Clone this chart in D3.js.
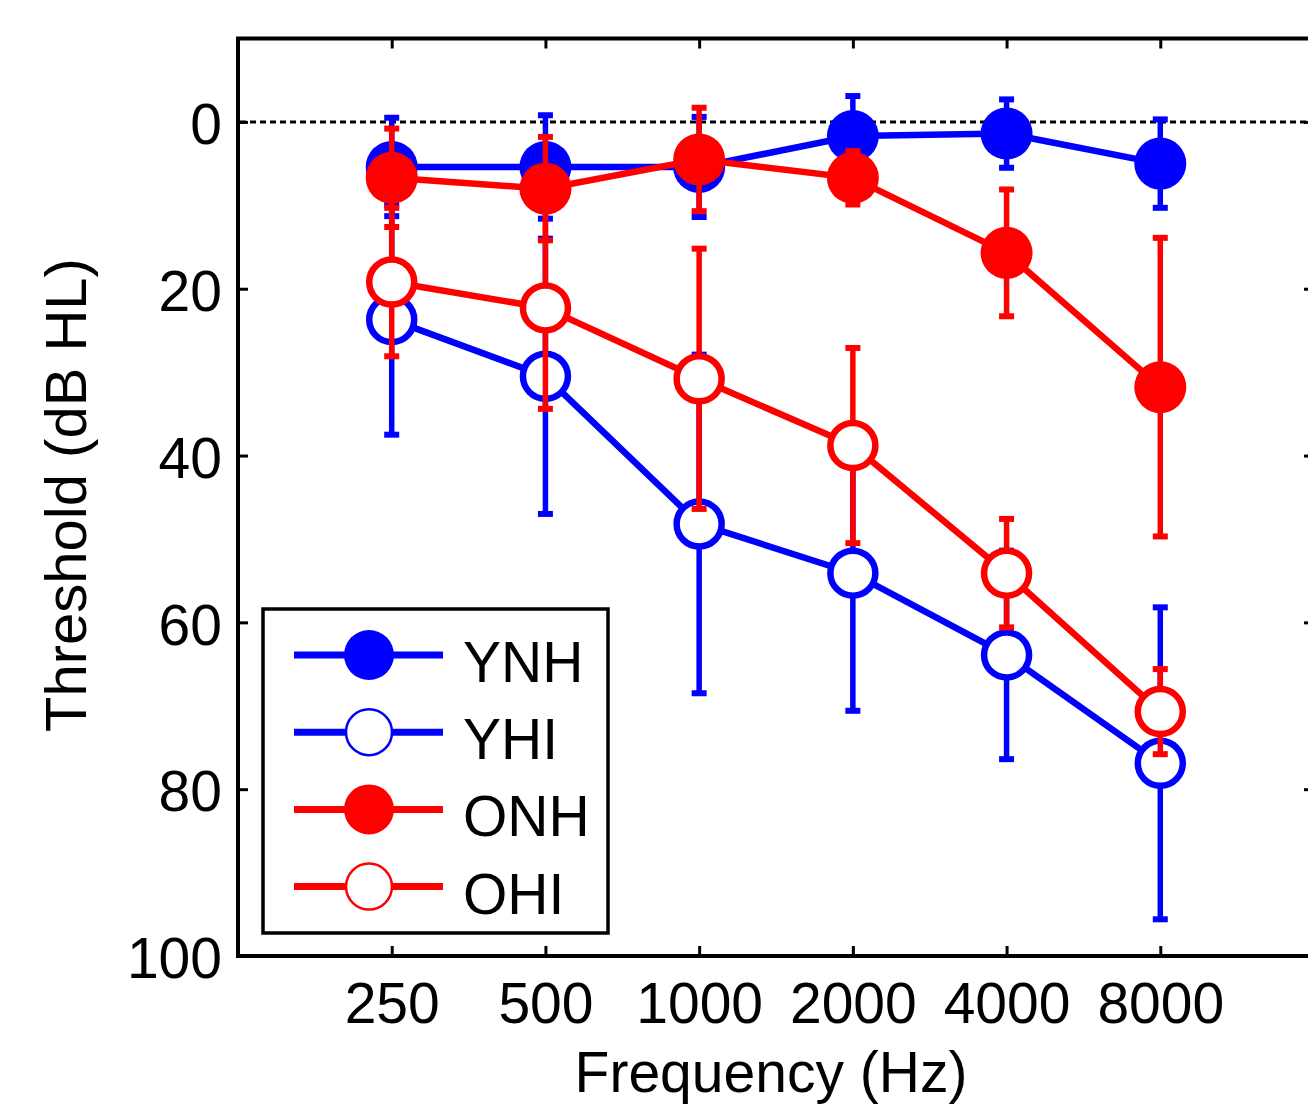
<!DOCTYPE html>
<html>
<head>
<meta charset="utf-8">
<script src="https://cdn.jsdelivr.net/npm/d3@7"></script>
<style>
body { margin:0; background:#fff; }
text { font-family: "Liberation Sans", Arial, sans-serif; fill:#000; }
</style>
</head>
<body>
<svg id="chart"></svg>
<script>
//----------data-------------
var freqs = [250, 500, 1000, 2000, 4000, 8000];
var freqLabels = ["250", "500", "1000", "2000", "4000", "8000"];
var yTicks = [0, 20, 40, 60, 80, 100];

var ynhMean = [5.4, 5.4, 5.4, 1.7, 1.4, 5.0];
var ynhSd   = [5.9, 6.2, 6.0, 4.8, 4.1, 5.3];
var yhiMean = [23.7, 30.5, 48.2, 54.1, 63.9, 76.9];
var yhiSd   = [13.8, 16.5, 20.3, 16.5, 12.5, 18.7];
var onhMean = [6.7, 8.0, 4.5, 6.7, 15.7, 31.8];
var onhSd   = [5.9, 6.2, 6.2, 3.2, 7.6, 17.9];
var ohiMean = [19.2, 22.3, 30.8, 38.8, 54.1, 70.7];
var ohiSd   = [8.9, 12.1, 15.6, 11.7, 6.5, 5.1];

var seriesNames = ["YNH", "YHI", "ONH", "OHI"];

var series = [
	{name: seriesNames[0], color: "#0000ff", open: false, mean: ynhMean, sd: ynhSd},
	{name: seriesNames[1], color: "#0000ff", open: true,  mean: yhiMean, sd: yhiSd},
	{name: seriesNames[2], color: "#ff0000", open: false, mean: onhMean, sd: onhSd},
	{name: seriesNames[3], color: "#ff0000", open: true,  mean: ohiMean, sd: ohiSd}
];

//----------setup-------------
var screen = {width:1308, height:1107};
var box = {left:238, right:1314, top:38.5, bottom:956};

var svg = d3.select("#chart")
	.attr("width", screen.width)
	.attr("height", screen.height);

svg.append("rect")
	.attr("width", screen.width)
	.attr("height", screen.height)
	.attr("fill", "#fff");

var xScale = d3.scaleLog()
	.domain([125, 16000])
	.range([box.left, box.right]);
var yScale = d3.scaleLinear()
	.domain([-10, 100])
	.range([box.top, box.bottom]);

//----------axes-------------
var drawAxes = function()
{
	var xBottom = d3.axisBottom(xScale)
		.tickValues(freqs)
		.tickFormat(function(d, i) { return freqLabels[i]; })
		.tickSizeInner(-10)
		.tickSizeOuter(0)
		.tickPadding(27);
	var gb = svg.append("g")
		.attr("transform", "translate(0," + box.bottom + ")")
		.call(xBottom);

	var xTop = d3.axisTop(xScale)
		.tickValues(freqs)
		.tickFormat("")
		.tickSizeInner(-10)
		.tickSizeOuter(0);
	var gt = svg.append("g")
		.attr("transform", "translate(0," + box.top + ")")
		.call(xTop);

	var yLeft = d3.axisLeft(yScale)
		.tickValues(yTicks)
		.tickSizeInner(-10)
		.tickSizeOuter(0)
		.tickPadding(16);
	var gl = svg.append("g")
		.attr("transform", "translate(" + box.left + ",0)")
		.call(yLeft);

	var yRight = d3.axisRight(yScale)
		.tickValues(yTicks)
		.tickFormat("")
		.tickSizeInner(-10)
		.tickSizeOuter(0);
	var gr = svg.append("g")
		.attr("transform", "translate(" + box.right + ",0)")
		.call(yRight);

	[gb, gt, gl, gr].forEach(function(g)
	{
		g.select(".domain").remove();
		g.selectAll(".tick line").attr("stroke", "#000").attr("stroke-width", 3);
		g.selectAll(".tick text")
			.attr("font-size", 57)
			.attr("font-family", "Liberation Sans, Arial, sans-serif")
			.attr("fill", "#000");
	});
	gl.selectAll(".tick text").attr("dy", "0.38em");

	// frame
	svg.append("rect")
		.attr("x", box.left)
		.attr("y", box.top)
		.attr("width", box.right - box.left)
		.attr("height", box.bottom - box.top)
		.attr("fill", "none")
		.attr("stroke", "#000")
		.attr("stroke-width", 4);

	// zero reference line
	svg.append("line")
		.attr("x1", box.left + 2)
		.attr("x2", box.right)
		.attr("y1", yScale(0))
		.attr("y2", yScale(0))
		.attr("stroke", "#000")
		.attr("stroke-width", 3)
		.attr("stroke-dasharray", "6,4");

	svg.append("text")
		.attr("transform", "translate(86,495) rotate(-90)")
		.attr("text-anchor", "middle")
		.attr("font-size", 58)
		.text("Threshold (dB HL)");

	svg.append("text")
		.attr("x", 771)
		.attr("y", 1092)
		.attr("text-anchor", "middle")
		.attr("font-size", 57)
		.text("Frequency (Hz)");
}

//----------series-------------
var drawSeries = function(s)
{
	var g = svg.append("g");
	var pts = freqs.map(function(f, i) { return {f: f, m: s.mean[i], sd: s.sd[i]}; });

	// error bars
	var eb = g.selectAll("g.eb")
		.data(pts)
		.enter()
		.append("g");
	eb.append("line")
		.attr("x1", function(d) { return xScale(d.f); })
		.attr("x2", function(d) { return xScale(d.f); })
		.attr("y1", function(d) { return yScale(d.m - d.sd); })
		.attr("y2", function(d) { return yScale(d.m + d.sd); })
		.attr("stroke", s.color)
		.attr("stroke-width", 5.5);
	[-1, 1].forEach(function(sign)
	{
		eb.append("line")
			.attr("x1", function(d) { return xScale(d.f) - 7.5; })
			.attr("x2", function(d) { return xScale(d.f) + 7.5; })
			.attr("y1", function(d) { return yScale(d.m + sign * d.sd); })
			.attr("y2", function(d) { return yScale(d.m + sign * d.sd); })
			.attr("stroke", s.color)
			.attr("stroke-width", 6);
	});

	var line = d3.line()
		.x(function(d) { return xScale(d.f); })
		.y(function(d) { return yScale(d.m); });
	g.append("path")
		.datum(pts)
		.attr("d", line)
		.attr("fill", "none")
		.attr("stroke", s.color)
		.attr("stroke-width", 6.5);

	g.selectAll("circle")
		.data(pts)
		.enter()
		.append("circle")
		.attr("cx", function(d) { return xScale(d.f); })
		.attr("cy", function(d) { return yScale(d.m); })
		.attr("r", s.open ? 22.5 : 26)
		.attr("fill", s.open ? "#fff" : s.color)
		.attr("stroke", s.open ? s.color : "none")
		.attr("stroke-width", s.open ? 6.5 : 0);
}

//----------legend-------------
var drawLegend = function()
{
	var lg = svg.append("g");
	lg.append("rect")
		.attr("x", 263)
		.attr("y", 609)
		.attr("width", 345)
		.attr("height", 324)
		.attr("fill", "#fff")
		.attr("stroke", "#000")
		.attr("stroke-width", 3.5);

	var rows = lg.selectAll("g.row")
		.data(series)
		.enter()
		.append("g")
		.attr("transform", function(d, i) { return "translate(0," + (655 + i * 77.2) + ")"; });
	rows.append("line")
		.attr("x1", 294)
		.attr("x2", 443)
		.attr("stroke", function(d) { return d.color; })
		.attr("stroke-width", 7);
	rows.append("circle")
		.attr("cx", 369)
		.attr("r", function(d) { return d.open ? 23 : 25; })
		.attr("fill", function(d) { return d.open ? "#fff" : d.color; })
		.attr("stroke", function(d) { return d.open ? d.color : "none"; })
		.attr("stroke-width", 2.5);
	rows.append("text")
		.attr("x", 463)
		.attr("y", 27)
		.attr("font-size", 57)
		.text(function(d) { return d.name; });
}

drawAxes();
series.forEach(drawSeries);
drawLegend();
</script>
</body>
</html>
